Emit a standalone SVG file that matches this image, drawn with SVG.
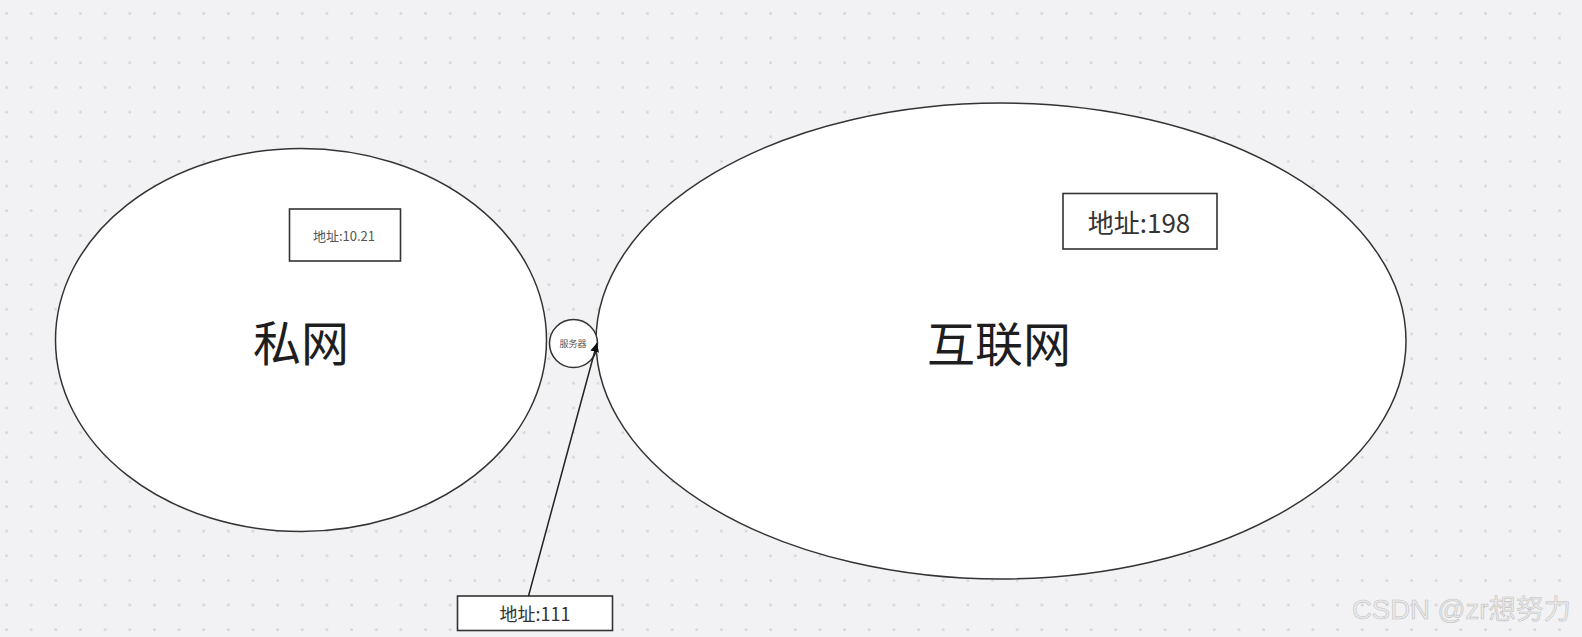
<svg xmlns="http://www.w3.org/2000/svg" width="1582" height="637" viewBox="0 0 1582 637">
<style>
.shape{fill:#ffffff;stroke:#333333;stroke-width:1.5}
.box{fill:#ffffff;stroke:#333333;stroke-width:1.6}
.t{font-family:"Noto Sans CJK SC","Noto Sans",sans-serif;text-anchor:middle;dominant-baseline:central}
.big{font-size:48px;fill:#1e1e1e}
.conn{stroke:#222222;stroke-width:1.5;fill:none}
</style>
<defs>
<pattern id="dots" patternUnits="userSpaceOnUse" x="0" y="0" width="24.65" height="24.65">
<rect x="5.3" y="12.3" width="2.4" height="2.4" fill="#d3d3d6"/>
</pattern>
<marker id="arrow" viewBox="0 0 10 10" refX="10" refY="5" markerWidth="9" markerHeight="9" markerUnits="userSpaceOnUse" orient="auto">
<path d="M0,0 L10,5 L0,10 Z" fill="#111111"/>
</marker>
</defs>
<rect x="0" y="0" width="1582" height="637" fill="#f2f2f4"/>
<rect x="0" y="0" width="1582" height="637" fill="url(#dots)"/>

<g id="private-net">
<ellipse class="shape" cx="301" cy="340" rx="245.5" ry="191.5"/>
<text class="t big" x="301" y="340">私网</text>
</g>
<g id="internet">
<ellipse class="shape" cx="1001" cy="341" rx="405" ry="238"/>
<text class="t big" x="999" y="341">互联网</text>
</g>
<g id="server">
<circle class="shape" cx="573.5" cy="343.5" r="24"/>
<text class="t" x="573" y="343" font-size="9" fill="#555555">服务器</text>
</g>
<g id="addr-1021">
<rect class="box" x="289.5" y="209" width="111" height="52"/>
<text class="t" x="344" y="235" font-size="13" fill="#555555">地址:10.21</text>
</g>
<g id="addr-198">
<rect class="box" x="1063" y="193.5" width="154" height="55.5"/>
<text class="t" x="1139" y="221" font-size="26" fill="#333333">地址:198</text>
</g>
<g id="addr-111">
<rect class="box" x="457.5" y="596" width="155" height="34.5"/>
<text class="t" x="535" y="613" font-size="18" fill="#333333">地址:111</text>
</g>
<g id="connectors">
<line class="conn" x1="528.5" y1="596" x2="597" y2="343" marker-end="url(#arrow)"/>
</g>
<text x="1352" y="619" font-family="Liberation Sans,'Noto Sans CJK SC',sans-serif" font-size="27.5" fill="#ececec" stroke="#c2c2c2" stroke-width="0.6">CSDN @zr想努力</text>
</svg>
